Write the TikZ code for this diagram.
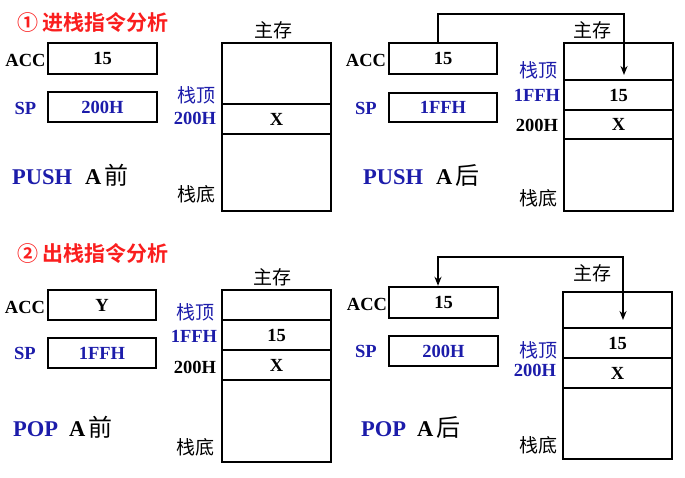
\documentclass[tikz,border=0pt]{standalone}
\usepackage{fontspec}
\setmainfont{Liberation Serif}
\newfontfamily\cjk{Noto Sans CJK SC}[BoldFont={Noto Sans CJK SC Bold}]
\usetikzlibrary{arrows.meta}
\definecolor{tblue}{RGB}{28,28,170}
\definecolor{tred}{RGB}{250,30,30}
\tikzset{
  box/.style={draw, line width=2.4pt, inner sep=0pt, minimum width=109pt, font=\fontsize{18.5}{20}\selectfont\bfseries},
  lab/.style={inner sep=0pt, font=\fontsize{18.5}{20}\selectfont\bfseries},
  cj/.style={inner sep=0pt, font=\fontsize{19}{21}\selectfont\cjk},
  big/.style={inner sep=0pt, anchor=west, font=\fontsize{22.5}{24}\selectfont\bfseries},
  ttl/.style={inner sep=0pt, anchor=west, text=tred, font=\fontsize{21}{23}\selectfont\cjk\bfseries},
  arr/.style={line width=2pt, arrows={-Stealth[length=9pt,width=7pt]}},
  arrb/.style={line width=2pt, arrows={Stealth[length=9pt,width=7pt]-Stealth[length=9pt,width=7pt]}}
}
\newcommand{\suffixcj}[1]{{\cjk\mdseries\fontsize{24}{26}\selectfont #1}}
\begin{document}
\begin{tikzpicture}[x=1pt,y=-1pt]
\useasboundingbox (0,0) rectangle (685,478);
% ---------- Panel 1 ----------
\node[ttl] (t1) at (17,22) {① 进栈指令分析};
\node[box, minimum height=31pt] (acc1) at (102.5,58.5) {15};
\node[box, minimum height=30pt, text=tblue] (sp1) at (102.5,107) {200H};
\node[lab] (acc1l) at (25.5,60) {ACC};
\node[lab, text=tblue] (sp1l) at (25.5,108) {SP};
\node[box, minimum height=61pt] (m1a) at (276.5,73.5) {};
\node[box, minimum height=30pt] (m1b) at (276.5,119) {X};
\node[box, minimum height=77pt] (m1c) at (276.5,172.5) {};
\node[cj] (zc1) at (273,30) {主存};
\node[cj, text=tblue] (zd1) at (196,95) {栈顶};
\node[lab, text=tblue] (a1) at (195,118) {200H};
\node[cj] (zb1) at (196,194) {栈底};
\node[big] (p1) at (12,175) {\textcolor{tblue}{PUSH}\hspace{13pt}A\hspace{3pt}\suffixcj{前}};
% ---------- Panel 2 ----------
\node[box, minimum width=108pt, minimum height=31pt] (acc2) at (443,58.5) {15};
\node[box, minimum width=108pt, minimum height=29pt, text=tblue] (sp2) at (443,107.5) {1FFH};
\node[lab] (acc2l) at (366,60) {ACC};
\node[lab, text=tblue] (sp2l) at (366,108) {SP};
\node[box, minimum height=37pt] (m2a) at (618.5,61.5) {};
\node[box, minimum height=30pt] (m2b) at (618.5,95) {15};
\node[box, minimum height=29pt] (m2c) at (618.5,124.5) {X};
\node[box, minimum height=72pt] (m2d) at (618.5,175) {};
\node[cj] (zc2) at (592,30) {主存};
\node[cj, text=tblue] (zd2) at (538,70) {栈顶};
\node[lab, text=tblue] (a2) at (537,95) {1FFH};
\node[lab] (b2) at (537,125) {200H};
\node[cj] (zb2) at (538,198) {栈底};
\node[big] (p2) at (363,176) {\textcolor{tblue}{PUSH}\hspace{13pt}A\hspace{3pt}\suffixcj{后}};
\coordinate (t2) at (624,75);
\draw[arr] ([xshift=-5pt]acc2.north) |- (624,14) -- (t2);
% ---------- Panel 3 ----------
\node[ttl] (t3) at (17,253) {② 出栈指令分析};
\node[box, minimum width=108pt, minimum height=30pt] (acc3) at (102,305) {Y};
\node[box, minimum width=108pt, minimum height=30pt, text=tblue] (sp3) at (102,353) {1FFH};
\node[lab] (acc3l) at (25,307) {ACC};
\node[lab, text=tblue] (sp3l) at (25,353) {SP};
\node[box, minimum height=30pt] (m3a) at (276.5,305) {};
\node[box, minimum height=30pt] (m3b) at (276.5,335) {15};
\node[box, minimum height=30pt] (m3c) at (276.5,365) {X};
\node[box, minimum height=82pt] (m3d) at (276.5,421) {};
\node[cj] (zc3) at (272,277) {主存};
\node[cj, text=tblue] (zd3) at (195,312) {栈顶};
\node[lab, text=tblue] (a3) at (194,336) {1FFH};
\node[lab] (b3) at (195,367) {200H};
\node[cj] (zb3) at (195,447) {栈底};
\node[big] (p3) at (13,427) {\textcolor{tblue}{POP}\hspace{11pt}A\hspace{3pt}\suffixcj{前}};
% ---------- Panel 4 ----------
\node[box, minimum height=31pt] (acc4) at (443.5,302.5) {15};
\node[box, minimum height=30pt, text=tblue] (sp4) at (443.5,351) {200H};
\node[lab] (acc4l) at (367,304) {ACC};
\node[lab, text=tblue] (sp4l) at (366,351) {SP};
\node[box, minimum height=36pt] (m4a) at (617.5,310) {};
\node[box, minimum height=30pt] (m4b) at (617.5,343) {15};
\node[box, minimum height=30pt] (m4c) at (617.5,373) {X};
\node[box, minimum height=71pt] (m4d) at (617.5,423.5) {};
\node[cj] (zc4) at (592,273) {主存};
\node[cj, text=tblue] (zd4) at (538,350) {栈顶};
\node[lab, text=tblue] (a4) at (535,370) {200H};
\node[cj] (zb4) at (538,445) {栈底};
\node[big] (p4) at (361,427) {\textcolor{tblue}{POP}\hspace{11pt}A\hspace{3pt}\suffixcj{后}};
\coordinate (t4) at (623,320);
\draw[arrb] (t4) |- (438,257) -- ([xshift=-5.5pt]acc4.north);
\end{tikzpicture}
\end{document}
